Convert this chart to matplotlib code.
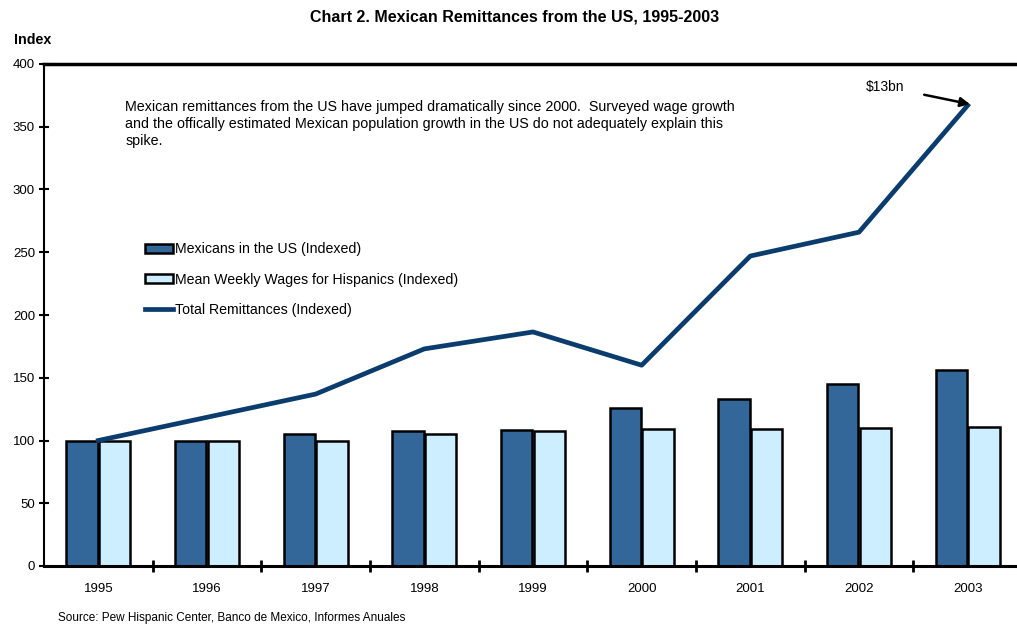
import matplotlib
matplotlib.use("Agg")
import matplotlib.pyplot as plt
import numpy as np

years = ["1995", "1996", "1997", "1998", "1999", "2000", "2001", "2002", "2003"]
mexicans_us = [100, 100, 105, 107.5, 108.5, 126, 133, 145, 156]
wages = [100, 100, 100, 105, 107.5, 109.5, 109.5, 110, 111]
remittances = [100, 118.5, 137, 173, 186.5, 160, 247, 266, 367]

plt.rcParams['font.family'] = ['Liberation Sans', 'DejaVu Sans']

fig = plt.figure(figsize=(10.17, 6.24), dpi=100)
ax = fig.add_axes([44/1017, 1-566/624, (1022-44)/1017, (566-64)/624])

x = np.arange(len(years))
w = 0.29
b1 = ax.bar(x - w/2 - 0.005, mexicans_us, w, color="#336699", edgecolor="black", linewidth=1.8,
            label="Mexicans in the US (Indexed)", zorder=2)
b2 = ax.bar(x + w/2 + 0.005, wages, w, color="#cceeff", edgecolor="black", linewidth=1.8,
            label="Mean Weekly Wages for Hispanics (Indexed)", zorder=2)
l1, = ax.plot(x, remittances, color="#0b3c6e", linewidth=3.4, label="Total Remittances (Indexed)", zorder=3)

ax.set_xlim(-0.5, 8.5)
ax.set_ylim(0, 400)
ax.set_yticks(range(0, 401, 50))
ax.set_xticks(x)
ax.set_xticklabels(years)
ax.set_xticks(np.arange(0.5, 8.5, 1), minor=True)
ax.tick_params(axis='x', which='major', length=0, pad=12, labelsize=9.5)
ax.tick_params(axis='x', which='minor', length=9, width=2, direction='inout', color='black')
ax.tick_params(axis='y', length=7, width=1.5, direction='inout', labelsize=9.5, pad=3)

ax.spines['right'].set_visible(False)
ax.spines['top'].set_linewidth(2.5)
ax.spines['bottom'].set_linewidth(2.2)
ax.spines['left'].set_linewidth(1.5)

leg = ax.legend([b1, b2, l1], [b1.get_label(), b2.get_label(), l1.get_label()],
                loc='upper left', bbox_to_anchor=(0.103, 0.645), frameon=False, fontsize=10.2,
                handlelength=2.0, handleheight=0.6, handletextpad=0.15, labelspacing=1.15,
                borderpad=0, borderaxespad=0)

ax.text(0.083, 0.928, "Mexican remittances from the US have jumped dramatically since 2000.  Surveyed wage growth\n"
        "and the offically estimated Mexican population growth in the US do not adequately explain this\n"
        "spike.", transform=ax.transAxes, fontsize=10.3, va='top', ha='left', linespacing=1.25)

ax.text(7.06, 381.5, "$13bn", fontsize=10, va='center', ha='left')
ax.annotate("", xy=(8.02, 368), xytext=(7.6, 375.5),
            arrowprops=dict(arrowstyle='-|>', color='black', lw=1.8, shrinkA=0, shrinkB=0,
                            mutation_scale=14))

fig.text(515/1017, 1-17/624, "Chart 2. Mexican Remittances from the US, 1995-2003",
         ha='center', va='center', fontsize=11.5, fontweight='bold')
fig.text(14/1017, 1-40/624, "Index", ha='left', va='center', fontsize=10.3, fontweight='bold')
fig.text(58/1017, 1-618/624, "Source: Pew Hispanic Center, Banco de Mexico, Informes Anuales",
         ha='left', va='center', fontsize=8.5)

fig.savefig("out.png", dpi=100)
